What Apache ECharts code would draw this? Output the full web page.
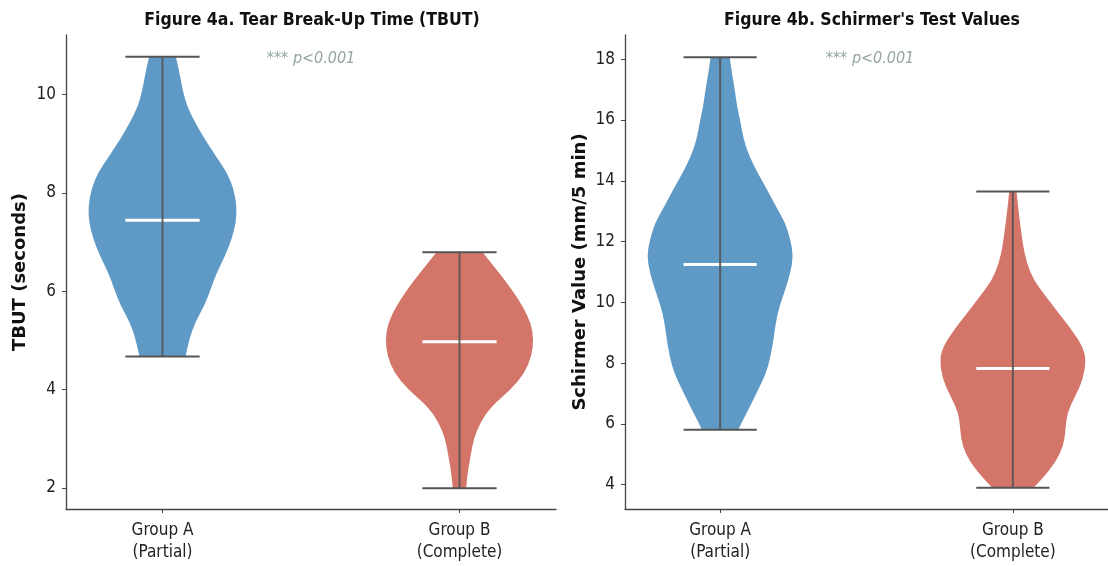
<!DOCTYPE html>
<html>
<head>
<meta charset="utf-8">
<script src="https://cdn.jsdelivr.net/npm/echarts@6/dist/echarts.min.js"></script>
<style>html,body{margin:0;padding:0;background:#fff}#c{width:1108px;height:566px}</style>
</head>
<body>
<div id="c"></div>
<script>
// ---- Data ----
const groupLabels = ['Group A\n(Partial)', 'Group B\n(Complete)'];
const groupPositions = [1, 2];

// Figure 4a: TBUT (seconds)
const tbutA_values = [10.77, 10.44, 10.10, 9.76, 9.43, 9.09, 8.74, 8.41, 8.07, 7.72, 7.40, 7.05, 6.71, 6.38, 6.04, 5.69, 5.37, 5.02, 4.67];
const tbutA_density = [0.18, 0.23, 0.27, 0.33, 0.44, 0.57, 0.72, 0.87, 0.96, 1.00, 0.99, 0.93, 0.84, 0.73, 0.65, 0.56, 0.44, 0.36, 0.31];
const tbutB_values = [6.79, 6.38, 6.04, 5.70, 5.36, 5.02, 4.68, 4.34, 4.00, 3.66, 3.33, 2.99, 2.65, 2.31, 1.99];
const tbutB_density = [0.31, 0.53, 0.70, 0.85, 0.96, 1.00, 0.97, 0.88, 0.69, 0.43, 0.28, 0.19, 0.15, 0.11, 0.09];
const tbutMedians = [7.44, 4.97];

// Figure 4b: Schirmer (mm/5 min)
const schA_values = [18.07, 17.56, 17.01, 16.46, 15.92, 15.36, 14.81, 14.27, 13.72, 13.17, 12.62, 12.07, 11.52, 10.97, 10.42, 9.87, 9.33, 8.78, 8.23, 7.68, 7.13, 6.58, 6.03, 5.81];
const schA_density = [0.13, 0.16, 0.20, 0.23, 0.28, 0.32, 0.40, 0.51, 0.64, 0.76, 0.89, 0.96, 1.00, 0.96, 0.89, 0.81, 0.76, 0.73, 0.69, 0.63, 0.52, 0.41, 0.29, 0.25];
const schB_values = [13.65, 12.95, 12.40, 11.85, 11.30, 10.75, 10.20, 9.66, 9.11, 8.56, 8.12, 7.46, 6.91, 6.36, 5.81, 5.26, 4.72, 4.17, 3.90];
const schB_density = [0.05, 0.08, 0.11, 0.14, 0.19, 0.28, 0.45, 0.62, 0.80, 0.95, 1.00, 0.96, 0.85, 0.74, 0.72, 0.69, 0.58, 0.39, 0.28];
const schMedians = [11.25, 7.82];

const yTicksA = [2, 4, 6, 8, 10];
const yTicksB = [4, 6, 8, 10, 12, 14, 16, 18];

// ---- Styles ----
const colors = ['#5f99c5', '#d4756a'];
const lineGray = '#555555';
const halfWidth = 0.25;   // violin half width in x units
const capHalf = 0.125;
const tickFont = "'Liberation Sans Narrow','DejaVu Sans Condensed','Roboto Condensed','Liberation Sans',sans-serif";

const panels = [
  {profiles: [[tbutA_values, tbutA_density], [tbutB_values, tbutB_density]], medians: tbutMedians},
  {profiles: [[schA_values, schA_density], [schB_values, schB_density]], medians: schMedians}
];

// smooth open curve through midpoints (stays inside the hull of the points)
function smoothSide(pts, start) {
  let d = (start ? 'M' : 'L') + pts[0][0].toFixed(2) + ' ' + pts[0][1].toFixed(2);
  for (let k = 1; k < pts.length - 1; k++) {
    const mx = (pts[k][0] + pts[k + 1][0]) / 2, my = (pts[k][1] + pts[k + 1][1]) / 2;
    d += ' Q' + pts[k][0].toFixed(2) + ' ' + pts[k][1].toFixed(2) + ' ' + mx.toFixed(2) + ' ' + my.toFixed(2);
  }
  const l = pts[pts.length - 1];
  d += ' L' + l[0].toFixed(2) + ' ' + l[1].toFixed(2);
  return d;
}

function makeRender(panel) {
  return function (params, api) {
    const i = api.value(0);
    const pos = groupPositions[i];
    const vals = panel.profiles[i][0];
    const dens = panel.profiles[i][1];
    const right = [], left = [];
    for (let k = 0; k < vals.length; k++) right.push(api.coord([pos + dens[k] * halfWidth, vals[k]]));
    for (let k = vals.length - 1; k >= 0; k--) left.push(api.coord([pos - dens[k] * halfWidth, vals[k]]));
    const pathData = smoothSide(right, true) + ' ' + smoothSide(left, false) + ' Z';
    const vmax = vals[0], vmin = vals[vals.length - 1];
    const med = panel.medians[i];
    const hline = (v, color, w) => ({type: 'line', shape: {
      x1: api.coord([pos - capHalf, v])[0], y1: api.coord([pos, v])[1],
      x2: api.coord([pos + capHalf, v])[0], y2: api.coord([pos, v])[1]}, style: {stroke: color, lineWidth: w}});
    const children = [
      {type: 'path', shape: {pathData: pathData}, style: {fill: colors[i], stroke: null}},
      hline(med, '#ffffff', 3),
      {type: 'line', shape: {x1: api.coord([pos, vmin])[0], y1: api.coord([pos, vmin])[1], x2: api.coord([pos, vmax])[0], y2: api.coord([pos, vmax])[1]}, style: {stroke: lineGray, lineWidth: 2, opacity: 0.9}},
      hline(vmin, lineGray, 2),
      hline(vmax, lineGray, 2)
    ];
    return {type: 'group', children: children};
  };
}

function xAxis(gi) {
  return {
    type: 'value', gridIndex: gi, min: 0.675, max: 2.325,
    axisLine: {show: true, lineStyle: {color: '#444', width: 1.3}},
    axisTick: {show: true, customValues: groupPositions, length: 4, lineStyle: {color: '#444', width: 1}},
    axisLabel: {customValues: groupPositions, formatter: v => groupLabels[groupPositions.indexOf(v)] || '',
      fontFamily: tickFont, fontSize: 17, color: '#222', lineHeight: 22, margin: 11},
    splitLine: {show: false}
  };
}
function yAxis(gi, min, max, ticks, name) {
  return {
    type: 'value', gridIndex: gi, min: min, max: max,
    name: name, nameLocation: 'middle', nameGap: gi === 0 ? 37 : 36,
    nameTextStyle: {fontFamily: "'DejaVu Sans',sans-serif", fontWeight: 'bold', fontSize: 18, color: '#111'},
    axisLine: {show: true, lineStyle: {color: '#444', width: 1.3}},
    axisTick: {show: true, customValues: ticks, length: 4, lineStyle: {color: '#444', width: 1}},
    axisLabel: {customValues: ticks, fontFamily: tickFont, fontSize: 17, color: '#222', margin: 10},
    splitLine: {show: false}
  };
}

const chart = echarts.init(document.getElementById('c'), null, {renderer: 'canvas'});
chart.setOption({
  animation: false,
  backgroundColor: '#ffffff',
  title: [
    {text: 'Figure 4a. Tear Break-Up Time (TBUT)', left: 307, top: 6, textAlign: 'center',
      textStyle: {fontFamily: tickFont, fontWeight: 'bold', fontSize: 17.5, color: '#111'}},
    {text: "Figure 4b. Schirmer's Test Values", left: 867, top: 6, textAlign: 'center',
      textStyle: {fontFamily: tickFont, fontWeight: 'bold', fontSize: 17.5, color: '#111'}},
    {text: '*** p<0.001', left: 306, top: 46, textAlign: 'center',
      textStyle: {fontFamily: tickFont, fontStyle: 'italic', fontWeight: 'normal', fontSize: 16, color: '#95a5a6'}},
    {text: '*** p<0.001', left: 865, top: 46, textAlign: 'center',
      textStyle: {fontFamily: tickFont, fontStyle: 'italic', fontWeight: 'normal', fontSize: 16, color: '#95a5a6'}}
  ],
  grid: [
    {left: 66, top: 35, width: 490, height: 474},
    {left: 625, top: 35, width: 490, height: 474}
  ],
  xAxis: [xAxis(0), xAxis(1)],
  yAxis: [
    yAxis(0, 1.57, 11.21, yTicksA, 'TBUT (seconds)'),
    yAxis(1, 3.2, 18.8, yTicksB, 'Schirmer Value (mm/5 min)')
  ],
  series: [
    {type: 'custom', xAxisIndex: 0, yAxisIndex: 0, renderItem: makeRender(panels[0]), data: [[0], [1]], clip: false},
    {type: 'custom', xAxisIndex: 1, yAxisIndex: 1, renderItem: makeRender(panels[1]), data: [[0], [1]], clip: false}
  ]
});
</script>
</body>
</html>
